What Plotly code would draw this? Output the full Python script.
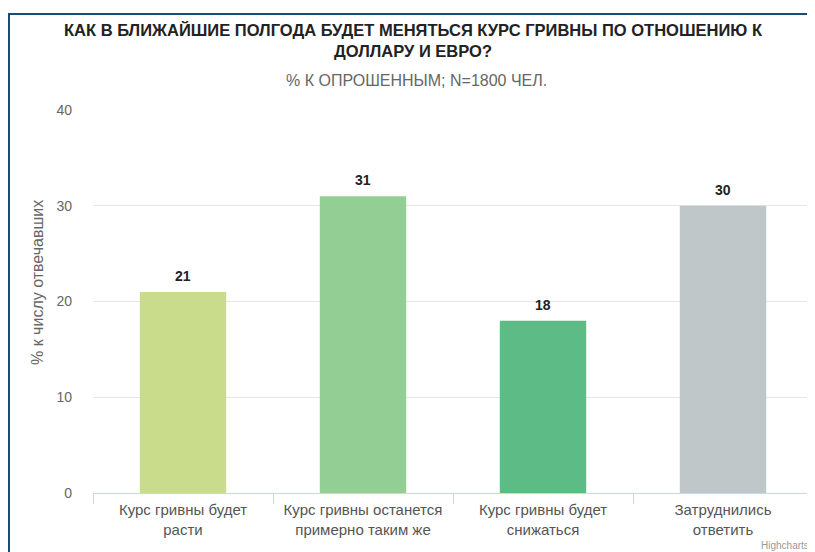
import plotly.graph_objects as go

# ── Data ──────────────────────────────────────────────────────────────────────
CATEGORIES = [
    "Курс гривны будет<br>расти",
    "Курс гривны останется<br>примерно таким же",
    "Курс гривны будет<br>снижаться",
    "Затруднились<br>ответить",
]
VALUES = [21, 31, 18, 30]
BAR_COLORS = ["#c9dc8b", "#93cf95", "#5dbb86", "#bfc7c8"]

TITLE = "КАК В БЛИЖАЙШИЕ ПОЛГОДА БУДЕТ МЕНЯТЬСЯ КУРС ГРИВНЫ ПО ОТНОШЕНИЮ К<br>ДОЛЛАРУ И ЕВРО?"
SUBTITLE = "% К ОПРОШЕННЫМ; N=1800 ЧЕЛ."
Y_TITLE = "% к числу отвечавших"

FONT = "Liberation Sans, Arial, sans-serif"
FRAME_COLOR = "#1b4b70"

# The page body adds an 8px margin, so the figure is drawn 8px in from the
# window corner. Screen targets: plot area x 93..813, y 110..493.
OFF = 8
W, H = 815 - OFF, 552 - OFF
L, R, T, B = 93 - OFF, W - (813 - OFF), 110 - OFF, H - (493 - OFF)
PW, PH = W - L - R, H - T - B


def px_x(x):
    # screen pixel -> paper fraction
    return (x - OFF - L) / PW


def px_y(y):
    return (H - B - (y - OFF)) / PH


fig = go.Figure()
fig.add_trace(go.Bar(
    x=CATEGORIES,
    y=VALUES,
    marker_color=BAR_COLORS,
    marker_line_width=0,
    width=0.48,
))

# Value labels above the bars (Highcharts-style spacing)
for cat, val in zip(CATEGORIES, VALUES):
    fig.add_annotation(x=cat, y=val, text=f"<b>{val}</b>", showarrow=False,
                       yanchor="middle", yshift=16,
                       font=dict(size=14, color="#222222", family=FONT))

# Dark blue frame along the top/left of the picture
fig.add_shape(type="line", xref="paper", yref="paper",
              x0=px_x(8), x1=px_x(816), y0=px_y(14), y1=px_y(14),
              line=dict(color=FRAME_COLOR, width=2))
fig.add_shape(type="line", xref="paper", yref="paper",
              x0=px_x(9), x1=px_x(9), y0=px_y(14), y1=px_y(553),
              line=dict(color=FRAME_COLOR, width=2))

fig.add_annotation(text=SUBTITLE, xref="paper", yref="paper",
                   x=px_x(416), y=px_y(81), xanchor="center", yanchor="middle",
                   showarrow=False, font=dict(size=16, color="#666666", family=FONT))
fig.add_annotation(text=Y_TITLE, xref="paper", yref="paper",
                   x=px_x(37), y=px_y(283), xanchor="center", yanchor="middle",
                   textangle=-90, showarrow=False,
                   font=dict(size=16, color="#666666", family=FONT))
fig.add_annotation(text="Highcharts", xref="paper", yref="paper",
                   x=px_x(811), y=px_y(545), xanchor="right", yanchor="middle",
                   showarrow=False, font=dict(size=10, color="#999999", family=FONT))

fig.update_layout(
    width=W, height=H,
    margin=dict(l=L, r=R, t=T, b=B, autoexpand=False),
    paper_bgcolor="white",
    plot_bgcolor="white",
    showlegend=False,
    font=dict(family=FONT, color="#666666"),
    title=dict(
        text=TITLE,
        x=(413 - OFF) / W, xanchor="center",
        y=1 - 28 / H, yanchor="top",
        font=dict(size=16.5, color="#222222", family=FONT, weight="bold"),
    ),
    xaxis=dict(
        automargin=False,
        showline=True, linecolor="#ccd6eb", linewidth=1,
        ticks="outside", tickson="boundaries", ticklen=10, tickcolor="#ccd6eb",
        tickfont=dict(size=15, color="#555555"),
        ticklabelstandoff=3,
        showgrid=False,
    ),
    yaxis=dict(
        automargin=False,
        range=[0, 40], dtick=10,
        showgrid=True, gridcolor="#e6e6e6", gridwidth=1,
        zeroline=False, showline=False,
        tickfont=dict(size=14, color="#666666"),
        ticklabelstandoff=20,
    ),
)

fig.write_html("out.html")
